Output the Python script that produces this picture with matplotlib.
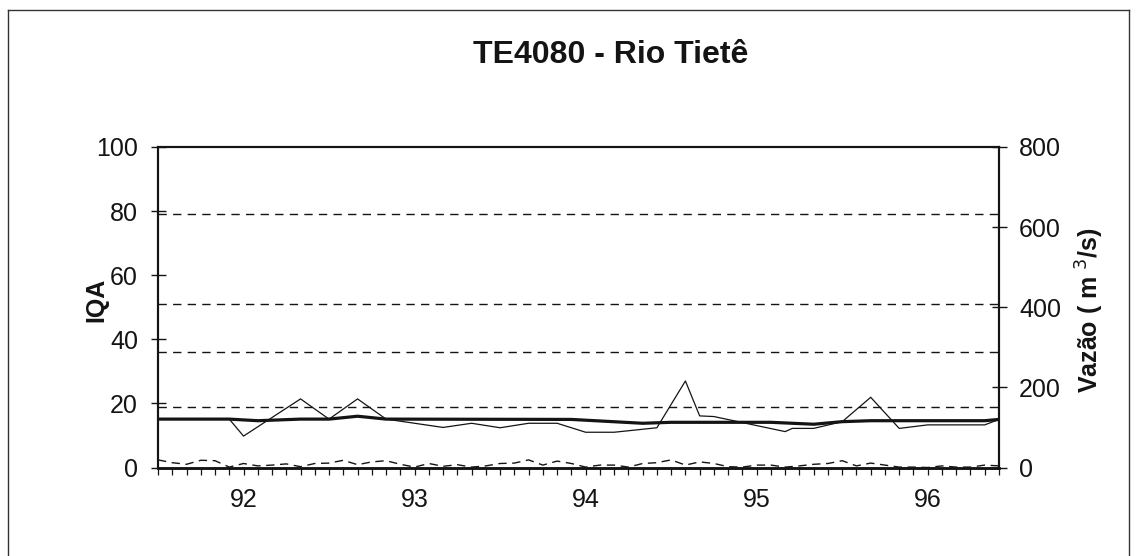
import matplotlib
matplotlib.use("Agg")
import matplotlib.pyplot as plt
from matplotlib.lines import Line2D

plt.rcParams['font.family'] = ['Liberation Sans', 'DejaVu Sans']

# IQA samples (month index from Jan/92, value)
iqa_months = [0, 5, 6, 10, 12, 14, 16, 20, 22, 24, 26, 28, 30, 32, 35, 37, 38, 39,
              44, 44.5, 46, 48, 50, 52, 54, 58, 59]
iqa_values = [15.1, 15.1, 9.8, 21.4, 15.1, 21.4, 15.1, 12.5, 13.8, 12.4, 13.8, 13.8,
              11.0, 11.0, 12.4, 27.0, 16.1, 15.9, 11.2, 12.2, 12.2, 14.3, 21.9, 12.2,
              13.3, 13.3, 15.0]

# IQA trend line
trend_months = [0, 5, 7, 10, 12, 14, 16, 29, 34, 36, 43, 46, 48, 50, 58, 59]
trend_values = [15.1, 15.1, 14.6, 15.1, 15.1, 16.0, 15.1, 15.0, 13.8, 14.1, 14.1,
                13.5, 14.3, 14.6, 14.6, 15.0]

# Monthly flow (m3/s), Jan/92 .. Dec/96
flow_months = list(range(60))
flow_values = [19, 12, 8, 18, 17, 1, 10, 4, 6, 9,
               2, 10, 11, 18, 7, 14, 17, 8, 1, 10,
               3, 7, 1, 4, 10, 11, 19, 6, 16, 10,
               1, 6, 6, 1, 10, 12, 19, 6, 14, 10,
               2, 1, 6, 6, 1, 4, 8, 10, 17, 4,
               11, 6, 1, 1, 0, 4, 1, 1, 6, 4]

# IQA class limits
class_limits = [79, 51, 36, 19]

year_positions = [6, 18, 30, 42, 54]
year_labels = ['92', '93', '94', '95', '96']

W, H = 1137, 556
fig = plt.figure(figsize=(W / 100, H / 100), dpi=100)
fig.patch.set_facecolor('white')

left, right, top, bottom = 158, 999, 147, 467.5
ax = fig.add_axes([left / W, 1 - bottom / H, (right - left) / W, (bottom - top) / H])
ax2 = ax.twinx()

ink = '#141414'

for lim in class_limits:
    ax.axhline(lim, color=ink, lw=1.0, ls=(0, (6, 4.5)), zorder=1)

ax.plot(trend_months, trend_values, color=ink, lw=2.3, zorder=3)
ax.plot(iqa_months, iqa_values, color=ink, lw=0.9, zorder=4)
ax2.plot(flow_months, flow_values, color=ink, lw=1.0, ls=(0, (6, 4)), zorder=2)

ax.set_xlim(0, 59)
ax.set_ylim(0, 100)
ax2.set_ylim(0, 800)

ax.set_xticks(flow_months)
ax.set_xticklabels([year_labels[year_positions.index(m)] if m in year_positions else ''
                    for m in flow_months])
ax.tick_params(axis='x', direction='out', length=5, width=0.9, pad=10,
               labelsize=18, colors=ink)

ax.set_yticks([0, 20, 40, 60, 80, 100])
ax.tick_params(axis='y', direction='inout', length=10.8, width=1.0, pad=9,
               labelsize=18, colors=ink)
ax2.set_yticks([0, 200, 400, 600, 800])
ax2.tick_params(axis='y', direction='inout', length=10.8, width=1.0, pad=9,
                labelsize=18, colors=ink)

for a in (ax, ax2):
    for side in ('left', 'right', 'top'):
        a.spines[side].set_linewidth(1.5)
        a.spines[side].set_color(ink)
    a.spines['bottom'].set_linewidth(1.8)
    a.spines['bottom'].set_color(ink)

fig.text(611 / W, 1 - 55 / H, 'TE4080 - Rio Tietê', ha='center', va='center',
         fontsize=23, fontweight='bold', color=ink)
fig.text(96 / W, 1 - 300 / H, 'IQA', ha='center', va='center', rotation=90,
         fontsize=18, fontweight='bold', color=ink)
fig.text(1090 / W, 1 - 310 / H, 'Vazão ( m $^3$/s)', ha='center', va='center',
         rotation=90, fontsize=18, fontweight='bold', color=ink)

# outer frame
for xs, ys in (([8, 1129], [10, 10]), ([8, 8], [10, 560]), ([1129, 1129], [10, 560])):
    fig.add_artist(Line2D([x / W for x in xs], [1 - y / H for y in ys],
                          color='#333333', lw=1.0, transform=fig.transFigure))

fig.savefig('out.png', dpi=100, facecolor='white')
